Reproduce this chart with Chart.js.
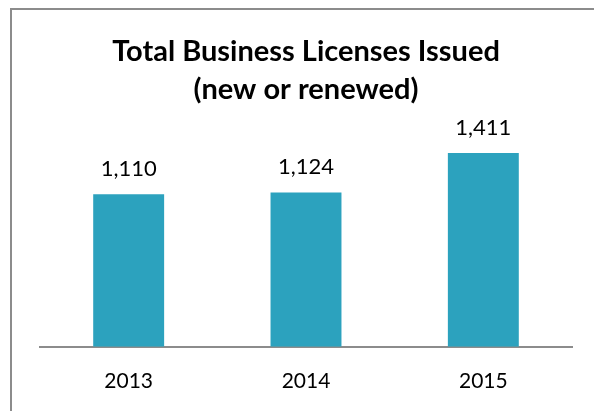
<!DOCTYPE html>
<html>
<head>
<meta charset="utf-8">
<script src="https://cdn.jsdelivr.net/npm/chart.js@4"></script>
<style>
  body { margin: 0; background: #fff; }
  #wrap { position: relative; width: 594px; height: 411px; }
  #frame {
    position: absolute; left: 10px; top: 8px; right: 0; bottom: 0;
    border-top: 2px solid #8c8c8c; border-left: 2px solid #8c8c8c;
  }
  canvas { position: absolute; left: 0; top: 0; }
</style>
</head>
<body>
<div id="wrap">
  <div id="frame"></div>
  <canvas id="myChart" width="594" height="411"></canvas>
</div>
<script>
const years = ["2013", "2014", "2015"];
const licenses = [1110, 1124, 1411];
const titleLines = ["Total Business Licenses Issued", "(new or renewed)"];

const fontFamily = "Lato, 'Open Sans', sans-serif";

// value labels above each bar
const barLabels = {
  id: "barLabels",
  afterDatasetsDraw(chart) {
    const ctx = chart.ctx;
    const meta = chart.getDatasetMeta(0);
    ctx.save();
    ctx.font = "22px " + fontFamily;
    ctx.fillStyle = "#000";
    ctx.textAlign = "center";
    ctx.textBaseline = "bottom";
    meta.data.forEach((bar, i) => {
      ctx.fillText(licenses[i].toLocaleString("en-US"), bar.x, bar.y - 14);
    });
    ctx.restore();
  },
};

const config = {
  type: "bar",
  data: {
    labels: years,
    datasets: [
      {
        data: licenses,
        backgroundColor: "#2ca2be",
        barPercentage: 0.4,
        categoryPercentage: 1,
      },
    ],
  },
  options: {
    responsive: false,
    animation: false,
    layout: { padding: { left: 40, right: 22, top: 0, bottom: -5 } },
    scales: {
      y: {
        display: false,
        min: 0,
        max: 1600,
      },
      x: {
        grid: { display: false, drawTicks: false },
        border: { display: true, color: "#8c8c8c", width: 2 },
        ticks: {
          padding: 22,
          color: "#000",
          font: { family: fontFamily, size: 21 },
        },
      },
    },
    plugins: {
      legend: { display: false },
      tooltip: { enabled: false },
      title: {
        display: true,
        text: titleLines,
        color: "#000",
        font: { family: fontFamily, size: 29, weight: "bold", lineHeight: 1.31 },
        padding: { top: 33, bottom: 18 },
      },
    },
  },
  plugins: [barLabels],
};

new Chart(document.getElementById("myChart"), config);
</script>
</body>
</html>
